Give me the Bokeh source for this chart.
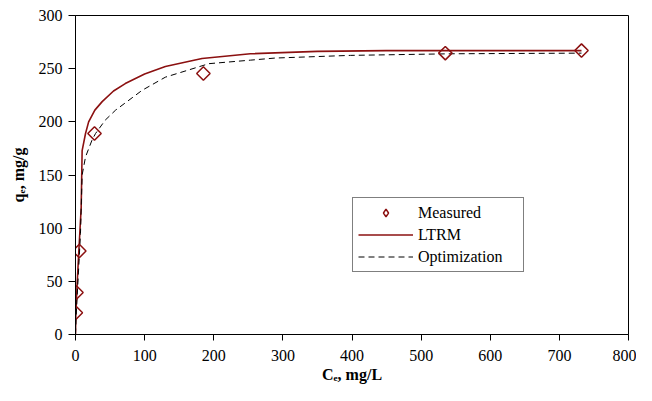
import math
from bokeh.plotting import figure
from bokeh.models import Range1d, Legend, LegendItem, FixedTicker, ColumnDataSource
from bokeh.embed import file_html
from bokeh.resources import INLINE

# Measured data
measured_x = [0.5, 1.4, 5.5, 27.5, 185, 535, 732]
measured_y = [20.5, 39.5, 78.5, 189, 245.5, 264.6, 267]

# LTRM model curve
ltrm_x = [0, 0.5, 2.4, 4.8, 8.2, 9.6, 14.5, 19, 28, 38.6, 55, 72, 100, 130, 183, 253, 350, 450, 600, 732]
ltrm_y = [0, 20, 48, 78, 119, 173, 189, 200, 211, 219, 229, 236, 245, 252, 259.5, 264, 266.3, 267, 267, 267]

# Optimization model curve
opt_x = [0, 1.5, 4, 7.2, 9.6, 14.5, 24, 29, 43, 58, 96.5, 130, 193, 253, 289, 398, 543, 732]
opt_y = [0, 25, 55, 95, 150, 167, 183, 189, 201.6, 211, 229.7, 242, 254.7, 258, 260, 262.5, 264, 264.6]

x_ticks = [0, 100, 200, 300, 400, 500, 600, 700, 800]
y_ticks = [0, 50, 100, 150, 200, 250, 300]

FONT = "'Liberation Serif', 'Times New Roman', serif"
RED = "#8b1010"

p = figure(width=636, height=385, output_backend="svg", toolbar_location=None,
           x_range=Range1d(0, 800), y_range=Range1d(0, 300),
           min_border_left=75, min_border_right=8, min_border_top=15, min_border_bottom=50)
p.xgrid.visible = False
p.ygrid.visible = False
p.outline_line_color = "black"
p.outline_line_width = 1
p.background_fill_color = "white"
p.border_fill_color = "white"

for ax in (p.xaxis, p.yaxis):
    ax.minor_tick_line_color = None
    ax.major_tick_in = 0
    ax.axis_line_color = "black"
    ax.major_tick_line_color = "black"
    ax.major_label_text_font = FONT
    ax.major_label_text_font_size = "16px"
    ax.major_label_text_color = "black"
    ax.axis_label_text_font = FONT
    ax.axis_label_text_font_size = "16px"
    ax.axis_label_text_font_style = "bold"
    ax.axis_label_text_color = "black"

p.xaxis.major_tick_out = 6
p.yaxis.major_tick_out = 7
p.xaxis.ticker = FixedTicker(ticks=x_ticks)
p.yaxis.ticker = FixedTicker(ticks=y_ticks)
p.xaxis.major_label_standoff = 9
p.yaxis.major_label_standoff = 6
p.xaxis.axis_label = "C\u2091, mg/L"
p.yaxis.axis_label = "q\u2091, mg/g"
p.xaxis.axis_label_standoff = 2
p.yaxis.axis_label_standoff = 9

r_ltrm = p.line(ltrm_x, ltrm_y, line_color=RED, line_width=1.6)
r_opt = p.line(opt_x, opt_y, line_color="black", line_width=1, line_dash="6 4")
meas_src = ColumnDataSource(data=dict(x=measured_x, y=measured_y))
r_meas = p.scatter("x", "y", source=meas_src, marker="square", angle=math.pi / 4, size=9.5,
                   line_color=RED, line_width=1.5, fill_color=None)
# smaller marker used only for the legend entry (hidden in the plot itself)
r_meas_leg = p.scatter("x", "y", source=meas_src,
                       marker="diamond", size=10,
                       line_color=RED, line_width=1.5, fill_color=None, visible=False)

legend = Legend(items=[
    LegendItem(label="Measured", renderers=[r_meas_leg], index=0),
    LegendItem(label="LTRM", renderers=[r_ltrm]),
    LegendItem(label="Optimization", renderers=[r_opt]),
], location=(277, 62))
legend.border_line_color = "black"
legend.border_line_width = 1
legend.background_fill_color = "white"
legend.background_fill_alpha = 1
legend.inactive_fill_alpha = 0
legend.label_text_font = FONT
legend.label_text_font_size = "16px"
legend.label_text_color = "black"
legend.glyph_width = 55
legend.glyph_height = 19
legend.label_height = 19
legend.label_width = 100
legend.spacing = 3
legend.padding = 5
legend.margin = 0
legend.label_standoff = 5
p.add_layout(legend)

open("out.html", "w").write(file_html(p, INLINE))
